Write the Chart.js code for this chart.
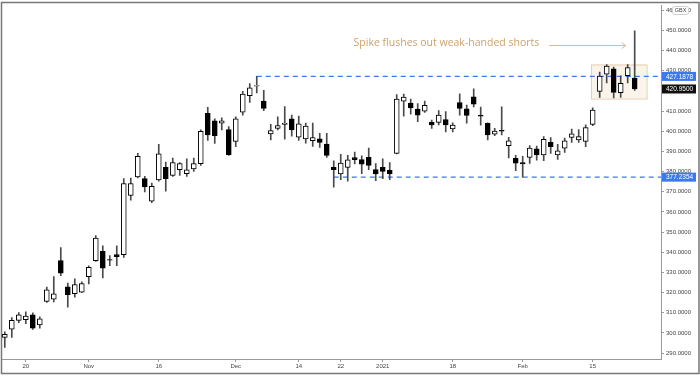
<!DOCTYPE html>
<html>
<head>
<meta charset="utf-8">
<script src="https://cdn.jsdelivr.net/npm/chart.js@4"></script>
<style>
  html, body { margin: 0; padding: 0; background: #fff; }
  canvas { display: block; }
</style>
</head>
<body>
<canvas id="chart" width="700" height="376"></canvas>
<script>
// trading days shown on the chart
const dates = [
  '2020-10-15','2020-10-16','2020-10-19','2020-10-20','2020-10-21','2020-10-22','2020-10-23','2020-10-26','2020-10-27','2020-10-28','2020-10-29','2020-10-30',
  '2020-11-02','2020-11-03','2020-11-04','2020-11-05','2020-11-06','2020-11-09','2020-11-10','2020-11-11','2020-11-12','2020-11-13',
  '2020-11-16','2020-11-17','2020-11-18','2020-11-19','2020-11-20','2020-11-23','2020-11-24','2020-11-25','2020-11-26','2020-11-27','2020-11-30',
  '2020-12-01','2020-12-02','2020-12-03','2020-12-04','2020-12-07','2020-12-08','2020-12-09','2020-12-10','2020-12-11',
  '2020-12-14','2020-12-15','2020-12-16','2020-12-17','2020-12-18','2020-12-21',
  '2020-12-22','2020-12-23','2020-12-24','2020-12-29','2020-12-30','2020-12-31',
  '2021-01-04','2021-01-05','2021-01-06','2021-01-07','2021-01-08','2021-01-11','2021-01-12','2021-01-13','2021-01-14','2021-01-15',
  '2021-01-18','2021-01-19','2021-01-20','2021-01-21','2021-01-22','2021-01-25','2021-01-26','2021-01-27','2021-01-28','2021-01-29',
  '2021-02-01','2021-02-02','2021-02-03','2021-02-04','2021-02-05','2021-02-08','2021-02-09','2021-02-10','2021-02-11','2021-02-12',
  '2021-02-15','2021-02-16','2021-02-17','2021-02-18','2021-02-19','2021-02-22','2021-02-23'
];

const opens = [
  297.8, 301.8, 306.2, 306.5, 309.0, 303.9, 315.6, 316.7, 335.8, 322.8, 319.4, 320.2,
  327.9, 335.8, 340.5, 336.3, 338.8, 338.8, 368.2, 377.3, 376.5, 365.3,
  375.8, 382.1, 378.1, 381.0, 379.0, 381.3, 383.9, 408.9, 405.1, 404.0, 400.8,
  394.9, 409.4, 417.6, 422.3, 414.9, 398.7, 401.4, 403.4, 406.1,
  397.0, 396.2, 395.3, 396.2, 393.6, 382.1,
  378.8, 382.1, 386.9, 385.9, 387.0, 381.0,
  382.1, 380.6, 389.0, 414.9, 414.0, 411.0, 410.0, 404.4, 404.4, 405.8,
  401.2, 414.2, 411.1, 417.0, 408.0, 403.9, 398.5, 400.4, 392.8, 386.5,
  384.5, 387.0, 391.3, 388.3, 394.5, 388.3, 391.6, 396.9, 395.7, 394.9,
  403.4, 419.8, 428.3, 431.0, 419.1, 427.5, 426.4
];
const highs = [
  300.5, 307.6, 310.1, 310.5, 310.0, 308.0, 322.7, 327.9, 342.3, 324.7, 326.8, 325.3,
  333.3, 348.3, 343.2, 338.3, 343.2, 376.5, 376.8, 389.1, 377.6, 374.3,
  393.5, 384.7, 386.7, 384.5, 386.3, 386.7, 400.7, 411.9, 406.1, 406.7, 402.3,
  407.2, 419.8, 423.6, 427.1878, 420.3, 403.4, 407.2, 412.2, 408.0,
  407.5, 404.0, 404.0, 399.0, 399.0, 385.3,
  388.6, 388.0, 389.6, 387.8, 391.6, 384.0,
  386.3, 384.4, 418.2, 418.4, 416.0, 413.7, 414.9, 405.5, 410.2, 409.7,
  404.2, 418.6, 413.0, 421.0, 412.0, 404.2, 401.5, 412.1, 397.0, 388.0,
  387.5, 392.9, 392.6, 397.3, 396.8, 393.5, 396.6, 401.1, 400.8, 403.2,
  411.6, 429.3, 433.0, 431.8, 427.5, 433.0, 449.8
];
const lows = [
  292.8, 297.7, 305.1, 304.6, 301.7, 302.3, 315.1, 315.3, 328.4, 312.8, 317.7, 320.0,
  324.3, 335.4, 327.3, 333.3, 333.3, 337.4, 365.8, 376.8, 369.9, 364.6,
  375.2, 370.3, 377.6, 378.1, 377.6, 380.1, 383.1, 395.4, 394.0, 400.6, 388.0,
  392.4, 408.0, 414.3, 419.0, 410.2, 395.7, 400.6, 396.1, 397.5,
  395.5, 394.1, 392.5, 392.0, 387.0, 372.3,
  376.0, 375.2, 383.8, 379.0, 381.0, 375.5,
  376.5, 376.0, 388.7, 407.5, 408.5, 404.7, 409.3, 401.4, 403.1, 399.7,
  399.7, 408.0, 404.0, 412.1, 403.0, 395.7, 397.8, 398.2, 386.8, 380.4,
  377.2354, 384.0, 385.7, 385.4, 389.0, 386.0, 389.5, 394.5, 394.5, 392.4,
  402.8, 416.8, 424.0, 416.5, 416.8, 424.0, 420.3
];
const closes = [
  299.3, 306.2, 308.9, 308.3, 302.3, 307.0, 321.4, 319.4, 329.6, 318.9, 324.0, 324.5,
  332.5, 347.0, 332.1, 336.0, 337.8, 374.1, 374.1, 387.5, 372.4, 372.7,
  388.8, 376.5, 384.5, 383.9, 380.9, 383.9, 399.9, 398.2, 397.8, 405.2, 388.4,
  406.1, 418.4, 421.5, 422.7, 411.3, 400.3, 402.8, 404.0, 400.6,
  403.7, 402.6, 396.9, 394.5, 388.0, 381.0,
  384.2, 385.8, 385.9, 383.7, 383.0, 378.8,
  380.1, 378.8, 415.9, 416.9, 411.6, 408.0, 412.8, 403.1, 408.0, 403.1,
  403.0, 411.3, 407.8, 413.4, 407.5, 398.2, 400.1, 400.0, 395.2, 384.1,
  383.8, 391.6, 388.3, 396.0, 392.4, 390.3, 395.2, 398.7, 397.3, 401.8,
  410.5, 427.4, 432.3, 419.2, 423.8, 431.6, 420.95
];

const tickDates = ['2020-10-20','2020-11-02','2020-11-16','2020-12-01','2020-12-14','2020-12-22','2021-01-04','2021-01-18','2021-02-01','2021-02-15'];
const tickText = ['20','Nov','16','Dec','14','22','2021','18','Feb','15'];
const yTicks = [290, 300, 310, 320, 330, 340, 350, 360, 370, 380, 390, 400, 410, 420, 430, 440, 450, 460];

const resistance = 427.1878;
const support = 377.2354;
const lastPrice = 420.95;

// drawing annotations, in data units (index, price)
const note = { text: 'Spike flushes out weak-handed shorts', x: 63.1, y: 443.8 };
const arrow = { x0: 77.8, x1: 88.7, y: 442.8 };
const box = { x0: 83.76, x1: 91.7, y0: 416.2, y1: 433.1 };
const resistanceFrom = 36;
const supportFrom = 47;

const BLUE = '#3b78f2';
const TAN = '#cda16c';
const FONT = "'Liberation Sans', 'DejaVu Sans', sans-serif";

const tickIdx = tickDates.map(d => dates.indexOf(d));

const overlay = {
  id: 'overlay',
  beforeDatasetsDraw(chart) {
    const { ctx, chartArea: a, scales: { x, y } } = chart;
    ctx.save();
    // highlight box
    const bx0 = x.getPixelForValue(box.x0), bx1 = x.getPixelForValue(box.x1);
    const by0 = y.getPixelForValue(box.y1), by1 = y.getPixelForValue(box.y0);
    ctx.fillStyle = 'rgba(240, 215, 180, 0.28)';
    ctx.fillRect(bx0, by0, bx1 - bx0, by1 - by0);
    ctx.strokeStyle = '#e6cfae';
    ctx.lineWidth = 1;
    ctx.strokeRect(bx0 + 0.5, by0 + 0.5, bx1 - bx0, by1 - by0);
    // horizontal levels
    ctx.strokeStyle = BLUE;
    ctx.lineWidth = 1.3;
    ctx.setLineDash([5, 4]);
    [[resistance, resistanceFrom], [support, supportFrom]].forEach(([lv, from]) => {
      const py = y.getPixelForValue(lv);
      ctx.beginPath();
      ctx.moveTo(x.getPixelForValue(from), py);
      ctx.lineTo(a.right, py);
      ctx.stroke();
    });
    ctx.restore();
  },
  afterDraw(chart) {
    const { ctx, chartArea: a, scales: { x, y } } = chart;
    ctx.save();
    // note text
    ctx.fillStyle = TAN;
    ctx.font = "10.5px 'Open Sans', 'DejaVu Sans', sans-serif";
    ctx.textAlign = 'center';
    ctx.textBaseline = 'middle';
    ctx.fillText(note.text, x.getPixelForValue(note.x), y.getPixelForValue(note.y));
    // arrow
    const ax0 = x.getPixelForValue(arrow.x0), ax1 = x.getPixelForValue(arrow.x1);
    const ay = Math.round(y.getPixelForValue(arrow.y)) + 0.5;
    ctx.strokeStyle = '#d9b994';
    ctx.lineWidth = 1;
    ctx.beginPath();
    ctx.moveTo(ax0, ay);
    ctx.lineTo(ax1, ay);
    ctx.moveTo(ax1 - 4, ay - 3);
    ctx.lineTo(ax1, ay);
    ctx.lineTo(ax1 - 4, ay + 3);
    ctx.stroke();
    // price tags on the axis
    const tag = (v, bg) => {
      const py = y.getPixelForValue(v);
      ctx.fillStyle = bg;
      ctx.fillRect(a.right + 1, py - 4.5, 34, 9);
      ctx.fillStyle = '#fff';
      ctx.font = '6.5px ' + FONT;
      ctx.textAlign = 'left';
      ctx.textBaseline = 'middle';
      ctx.fillText(v.toFixed(4), a.right + 5, py + 0.5);
    };
    tag(resistance, BLUE);
    tag(lastPrice, '#111');
    tag(support, BLUE);
    // currency badge
    ctx.fillStyle = '#fff';
    ctx.strokeStyle = '#cfcfcf';
    ctx.beginPath();
    ctx.roundRect(672.5, 6.5, 16, 8, 2);
    ctx.fill();
    ctx.stroke();
    ctx.fillStyle = '#444';
    ctx.font = '5.5px ' + FONT;
    ctx.textAlign = 'center';
    ctx.fillText('GBX', 680.5, 10.8);
    // frame
    ctx.strokeStyle = '#777';
    ctx.lineWidth = 1.5;
    ctx.strokeRect(1.5, 2.5, 697.5, 371);
    ctx.restore();
  }
};

new Chart(document.getElementById('chart').getContext('2d'), {
  type: 'bar',
  data: {
    datasets: [{
      label: 'body',
      data: opens.map((o, i) => ({ x: i, y: [o, closes[i]] })),
      backgroundColor: opens.map((o, i) => closes[i] >= o ? '#ffffff' : '#000000'),
      borderColor: '#000000',
      borderWidth: 1,
      borderSkipped: false,
      barThickness: 5,
      grouped: false,
      order: 1
    }, {
      label: 'wick',
      data: lows.map((l, i) => ({ x: i, y: [l, highs[i]] })),
      backgroundColor: '#4a4a4a',
      borderWidth: 0,
      barThickness: 1,
      grouped: false,
      order: 2
    }]
  },
  options: {
    responsive: false,
    animation: false,
    layout: { padding: { left: 2, top: 3, right: 0, bottom: 0 } },
    plugins: { legend: { display: false }, tooltip: { enabled: false } },
    scales: {
      x: {
        type: 'linear',
        offset: false,
        min: -0.4,
        max: 93.76,
        afterBuildTicks: s => { s.ticks = tickIdx.map(v => ({ value: v })); },
        afterFit: s => { s.height = 17; },
        ticks: {
          callback: (v, i) => tickText[i],
          autoSkip: false,
          maxRotation: 0,
          padding: 1,
          color: '#444',
          font: { size: 6, family: FONT }
        },
        grid: { offset: false, drawOnChartArea: false, tickLength: 3, color: '#999' },
        border: { color: '#999' }
      },
      y: {
        type: 'linear',
        position: 'right',
        min: 287.05,
        max: 462.3,
        afterBuildTicks: s => { s.ticks = yTicks.map(v => ({ value: v })); },
        afterFit: s => { s.width = 39; },
        ticks: {
          callback: v => v.toFixed(4),
          padding: 2,
          color: '#444',
          font: { size: 6, family: FONT }
        },
        grid: { drawOnChartArea: false, tickLength: 3, color: '#999' },
        border: { color: '#999' }
      }
    }
  },
  plugins: [overlay]
});
</script>
</body>
</html>
